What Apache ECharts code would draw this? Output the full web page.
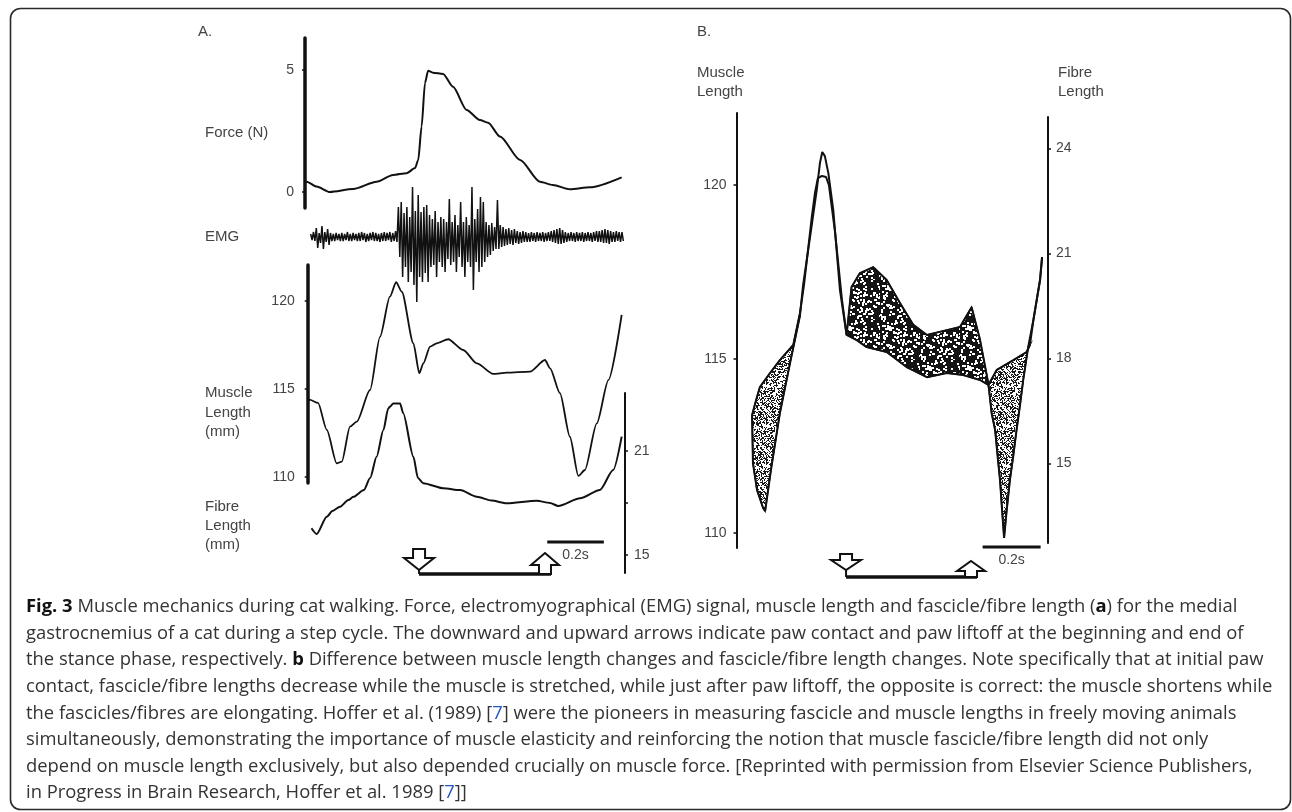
<!DOCTYPE html>
<html>
<head>
<meta charset="utf-8">
<title>Fig. 3 Muscle mechanics during cat walking</title>
<script src="https://cdn.jsdelivr.net/npm/echarts@6/dist/echarts.min.js"></script>
<style>
  html, body { margin: 0; padding: 0; background: #fff; }
  #chart { width: 1292px; height: 812px; }
</style>
</head>
<body>
<div id="chart"></div>
<script>
// time (s) is measured from the left axis of each panel

// panel A: force (N)
const forceA = [
  [0.000, 0.45], [0.006, 0.42], [0.041, 0.22], [0.088, 0.00], [0.170, 0.12], [0.253, 0.42],
  [0.311, 0.70], [0.359, 0.77], [0.389, 0.98], [0.400, 1.31], [0.412, 2.68], [0.424, 4.47],
  [0.435, 4.97], [0.452, 4.89], [0.488, 4.84], [0.523, 4.31], [0.571, 3.36], [0.618, 2.95],
  [0.647, 2.84], [0.689, 2.27], [0.760, 1.31], [0.830, 0.42], [0.876, 0.29], [0.936, 0.11],
  [1.007, 0.19], [1.119, 0.60]
];

// panel A: EMG envelope, one sample every 10 ms from 20 ms
const emgStart = 0.02;
const emgStep = 0.01;
const emgHigh = [
  3, 5, 9, 4, 11, 5, 8, 4, 3, 4, 3, 4, 3, 5, 3, 4, 3, 4, 5, 4, 3, 4, 5, 4, 3, 4, 5, 4, 5, 4, 6,
  30, 35, 24, 30, 20, 50, 26, 42, 25, 30, 32, 22, 18, 26, 15, 20, 18, 15, 38, 15, 22, 12, 35, 15,
  20, 12, 50, 18, 28, 40, 35, 15, 12, 14, 10, 37, 12, 10, 8, 9, 7, 8, 6,
  5, 6, 5, 4, 5, 4, 5, 4, 5, 4, 5, 6, 7, 8, 9, 7, 5, 4, 5, 4, 5, 4, 5, 4, 5, 4, 5, 6, 6, 7, 8,
  7, 6, 5, 6, 5, 5
];
const emgLow = [
  -3, -4, -11, -6, -12, -5, -8, -4, -4, -3, -4, -4, -3, -4, -4, -3, -4, -4, -3, -5, -4, -3, -4, -4,
  -5, -4, -4, -3, -5, -4, -5,
  -20, -40, -30, -45, -35, -48, -65, -40, -45, -36, -45, -30, -28, -40, -25, -30, -35, -22, -28,
  -25, -35, -20, -30, -40, -25, -30, -53, -25, -35, -30, -25, -20, -18, -14, -12, -12, -10, -9,
  -8, -7, -8, -6, -7,
  -6, -5, -5, -5, -4, -5, -4, -4, -5, -4, -4, -5, -6, -7, -7, -6, -5, -4, -4, -5, -4, -4, -5, -4,
  -4, -5, -4, -5, -5, -6, -6, -7, -5, -5, -4, -5, -4
];

// panel A: muscle length (mm)
const muscleA = [
  [0.010, 114.36], [0.018, 114.36], [0.046, 114.19], [0.077, 112.66], [0.112, 110.76],
  [0.130, 110.85], [0.159, 112.84], [0.183, 113.13], [0.230, 114.93], [0.265, 117.95],
  [0.300, 120.23], [0.322, 121.05], [0.342, 120.51], [0.383, 117.58], [0.404, 115.88],
  [0.418, 116.44], [0.442, 117.39], [0.465, 117.58], [0.506, 117.81], [0.559, 117.20],
  [0.607, 116.44], [0.665, 115.84], [0.713, 115.91], [0.795, 115.97], [0.848, 116.63],
  [0.866, 116.16], [0.901, 114.74], [0.936, 112.27], [0.966, 110.04], [0.989, 110.38],
  [1.031, 113.03], [1.072, 115.49], [1.119, 119.19]
];

// panel A: fibre length (mm)
const fibreA = [
  [0.023, 16.54], [0.041, 16.21], [0.077, 17.21], [0.097, 17.54], [0.124, 17.79], [0.153, 18.17],
  [0.171, 18.36], [0.208, 18.75], [0.230, 19.44], [0.253, 20.67], [0.277, 22.21], [0.294, 23.46],
  [0.300, 23.56], [0.312, 23.75], [0.336, 23.75], [0.347, 23.18], [0.383, 20.67], [0.399, 19.44],
  [0.418, 19.14], [0.489, 18.85], [0.548, 18.75], [0.607, 18.36], [0.659, 18.14], [0.713, 17.98],
  [0.819, 18.13], [0.866, 18.00], [0.895, 17.83], [0.972, 18.27], [1.042, 18.75], [1.089, 19.90],
  [1.119, 21.83]
];

// panel B: muscle length (mm)
const muscleB = [
  [0.052, 113.39], [0.055, 112.01], [0.069, 111.24], [0.090, 110.72], [0.097, 110.63],
  [0.117, 111.81], [0.148, 113.45], [0.183, 114.89], [0.217, 116.24], [0.228, 117.13],
  [0.252, 118.51], [0.275, 119.86], [0.286, 120.63], [0.294, 120.95], [0.303, 120.83],
  [0.315, 120.34], [0.332, 119.28], [0.355, 116.98], [0.378, 115.69], [0.395, 117.07],
  [0.424, 117.47], [0.470, 117.64], [0.516, 117.27], [0.562, 116.61], [0.608, 115.98],
  [0.655, 115.69], [0.723, 115.83], [0.769, 115.92], [0.809, 116.49], [0.838, 115.55],
  [0.867, 114.28], [0.878, 113.45], [0.890, 112.96], [0.900, 112.10], [0.907, 111.52],
  [0.914, 110.66], [0.921, 109.86], [0.929, 110.57], [0.941, 111.52], [0.953, 112.24],
  [0.964, 112.96], [0.976, 113.68], [0.987, 114.40], [1.004, 115.34], [1.022, 116.12],
  [1.045, 117.27], [1.052, 117.93]
];

// panel B: fibre length (mm)
const fibreB = [
  [0.052, 16.38], [0.066, 16.81], [0.079, 17.18], [0.114, 17.58], [0.148, 17.95], [0.194, 18.38],
  [0.217, 19.29], [0.231, 20.09], [0.258, 22.04], [0.269, 22.73], [0.279, 23.15], [0.293, 23.21],
  [0.307, 23.18], [0.317, 22.95], [0.338, 21.61], [0.362, 19.67], [0.378, 18.67], [0.413, 18.52],
  [0.447, 18.32], [0.516, 18.18], [0.585, 17.75], [0.655, 17.46], [0.723, 17.58], [0.780, 17.52],
  [0.838, 17.38], [0.867, 17.24], [0.896, 17.67], [0.953, 17.95], [0.999, 18.18], [1.010, 18.38],
  [1.022, 19.09], [1.045, 20.24], [1.052, 20.89]
];

// shaded spans in B: [from, to, 0 = fibre longer (light), 1 = muscle longer (dark)]
const spansB = [[0.052, 0.217, 0], [0.378, 0.867, 1], [0.867, 1.010, 0]];

// paw contact / liftoff times and the 0.2 s bar
const stanceA = [0.403, 0.848];
const scaleBarA = [0.856, 1.056];
const stanceB = [0.376, 0.807];
const scaleBarB = [0.847, 1.047];

const forceTicks = [0, 5];
const muscleTicks = [110, 115, 120];
const fibreTicksA = [15, 18, 21];
const fibreLabelsA = [15, 21];
const fibreTicksB = [15, 18, 21, 24];

// ---- layout ----
const FONT = 'Liberation Sans, Arial, sans-serif';
const INK = '#111';
const GREY = '#444';
const PA = { x0: 305, pps: 283, right: 625 };
const PB = { x0: 737, pps: 290, right: 1048 };
const FIBRE_B = { top: 117, height: 426, min: 12.723, max: 24.894 };

const grids = [
  { P: PA, left: 305, top: 38, height: 170 },    // 0 force
  { P: PA, left: 305, top: 180, height: 125 },   // 1 emg
  { P: PA, left: 307.7, top: 265, height: 218 }, // 2 muscle A
  { P: PA, left: 305, top: 393, height: 180 },   // 3 fibre A
  { P: PA, left: 305, top: 535, height: 39 },    // 4 arrows A
  { P: PB, left: 736.5, top: 113, height: 435 }, // 5 muscle B
  { P: PB, left: 736.5, top: FIBRE_B.top, height: FIBRE_B.height }, // 6 fibre B
  { P: PB, left: 736.5, top: 535, height: 42 }   // 7 arrows B
];

const gridOpts = grids.map(g => ({
  left: g.left, top: g.top, width: g.P.right - g.left, height: g.height,
  containLabel: false, outerBoundsMode: 'none'
}));
const xAxes = grids.map((g, i) => ({
  type: 'value', gridIndex: i, show: false,
  min: (g.left - g.P.x0) / g.P.pps, max: (g.P.right - g.P.x0) / g.P.pps
}));

function yAx(grid, min, max, o) {
  o = o || {};
  if (!o.ticks) return { type: 'value', gridIndex: grid, min, max, show: false };
  return {
    type: 'value', gridIndex: grid, min, max, position: o.pos || 'left',
    axisLine: { show: true, onZero: false, lineStyle: { color: INK, width: o.w || 2 } },
    axisTick: { show: true, length: 3, customValues: o.ticks, lineStyle: { color: INK, width: 1.5 } },
    axisLabel: {
      show: true, customValues: o.labels || o.ticks, margin: o.margin || 10,
      color: GREY, fontSize: 14, fontFamily: FONT
    },
    splitLine: { show: false }
  };
}

const yAxes = [
  yAx(0, -0.656, 6.311, { ticks: forceTicks, w: 3.5, margin: 11 }),
  yAx(1, -68, 57),
  yAx(2, 109.64, 122.03, { ticks: muscleTicks, w: 3.5, margin: 13 }),
  yAx(3, 13.96, 24.35, { ticks: fibreTicksA, labels: fibreLabelsA, pos: 'right', w: 2, margin: 9 }),
  yAx(4, 0, 1),
  yAx(5, 109.569, 122.069, { ticks: muscleTicks, w: 2, margin: 10 }),
  yAx(6, FIBRE_B.min, FIBRE_B.max, { ticks: fibreTicksB, pos: 'right', w: 2, margin: 8 }),
  yAx(7, 0, 1)
];

// ---- stipple textures ----
function stipple(bg, fg, n, size, seed) {
  const c = document.createElement('canvas');
  c.width = c.height = 40;
  const g = c.getContext('2d');
  g.fillStyle = bg; g.fillRect(0, 0, 40, 40);
  g.fillStyle = fg;
  let s = seed;
  for (let i = 0; i < n; i++) {
    s = (s * 16807) % 2147483647; const x = s % 40;
    s = (s * 16807) % 2147483647; const y = s % 40;
    g.fillRect(x, y, size, size);
  }
  return c;
}
const lightFill = { image: stipple('#ffffff', '#1a1a1a', 900, 1, 11), repeat: 'repeat' };
const darkFill = { image: stipple('#141414', '#ffffff', 150, 2, 29), repeat: 'repeat' };

function fibreBY(f) {
  return FIBRE_B.top + (FIBRE_B.max - f) / (FIBRE_B.max - FIBRE_B.min) * FIBRE_B.height;
}

function spanItem(params, api) {
  const t0 = api.value(0) - 1e-6, t1 = api.value(1) + 1e-6;
  const upper = muscleB.filter(p => p[0] >= t0 && p[0] <= t1).map(p => api.coord(p));
  const lower = fibreB.filter(p => p[0] >= t0 && p[0] <= t1)
    .map(p => [api.coord([p[0], 115])[0], fibreBY(p[1])]).reverse();
  return {
    type: 'polygon',
    shape: { points: upper.concat(lower) },
    style: { fill: api.value(2) ? darkFill : lightFill, stroke: INK, lineWidth: 1.5 }
  };
}

function annotItem(cfg) {
  return function (params, api) {
    const a = api.coord([api.value(0), 0]);
    const b = api.coord([api.value(1), 0]);
    const s0 = api.coord([api.value(2), 0]);
    const s1 = api.coord([api.value(3), 0]);
    const base = a[1], x0 = a[0], x1 = b[0];
    const tip = base - cfg.gap;
    const st = { fill: '#fff', stroke: INK, lineWidth: 2 };
    const barY = base - cfg.lift;
    return {
      type: 'group',
      children: [
        { type: 'line', shape: { x1: x0, y1: base, x2: x1 + 6, y2: base }, style: { stroke: INK, lineWidth: 3.5 } },
        { type: 'line', shape: { x1: x0, y1: tip, x2: x0, y2: base }, style: { stroke: INK, lineWidth: 2 } },
        {
          type: 'polygon', style: st,
          shape: { points: [[x0 - 6, tip - cfg.head - cfg.stem], [x0 + 6, tip - cfg.head - cfg.stem], [x0 + 6, tip - cfg.head],
            [x0 + 15, tip - cfg.head], [x0, tip], [x0 - 15, tip - cfg.head], [x0 - 6, tip - cfg.head]] }
        },
        {
          type: 'polygon', style: st,
          shape: { points: [[x1, base - cfg.head - cfg.stem], [x1 + 14, base - cfg.stem], [x1 + 6, base - cfg.stem],
            [x1 + 6, base], [x1 - 6, base], [x1 - 6, base - cfg.stem], [x1 - 14, base - cfg.stem]] }
        },
        { type: 'line', shape: { x1: s0[0], y1: barY, x2: s1[0], y2: barY }, style: { stroke: INK, lineWidth: 3 } },
        {
          type: 'text',
          style: { text: '0.2s', x: (s0[0] + s1[0]) / 2, y: barY + 13, align: 'center', verticalAlign: 'middle',
            fontSize: 14, fontFamily: FONT, fill: GREY }
        }
      ]
    };
  };
}

function trace(name, grid, data, width) {
  return {
    name, type: 'line', xAxisIndex: grid, yAxisIndex: grid, data,
    showSymbol: false, symbol: 'none', smooth: 0.25, smoothMonotone: 'x',
    lineStyle: { color: INK, width: width || 1.8 }, z: 5, silent: true
  };
}

const emgData = [];
emgHigh.forEach((h, i) => {
  const t = emgStart + i * emgStep;
  emgData.push([t, h], [t + emgStep / 2, emgLow[i]]);
});

// ---- text ----
function label(lines, x, y, lh, extra) {
  return lines.map((s, i) => Object.assign({
    type: 'text', x, y: y + i * lh,
    style: { text: s, fontSize: 15, fontFamily: FONT, fill: GREY, verticalAlign: 'middle', align: 'left' }
  }, extra || {}));
}

const captionLines = [
  '{b|Fig. 3} Muscle mechanics during cat walking. Force, electromyographical (EMG) signal, muscle length and fascicle/fibre length ({b|a}) for the medial',
  'gastrocnemius of a cat during a step cycle. The downward and upward arrows indicate paw contact and paw liftoff at the beginning and end of',
  'the stance phase, respectively. {b|b} Difference between muscle length changes and fascicle/fibre length changes. Note specifically that at initial paw',
  'contact, fascicle/fibre lengths decrease while the muscle is stretched, while just after paw liftoff, the opposite is correct: the muscle shortens while',
  'the fascicles/fibres are elongating. Hoffer et al. (1989) [{l|7}] were the pioneers in measuring fascicle and muscle lengths in freely moving animals',
  'simultaneously, demonstrating the importance of muscle elasticity and reinforcing the notion that muscle fascicle/fibre length did not only',
  'depend on muscle length exclusively, but also depended crucially on muscle force. [Reprinted with permission from Elsevier Science Publishers,',
  'in Progress in Brain Research, Hoffer et al. 1989 [{l|7}]]'
];
const CAP_FONT = 'Open Sans, Noto Sans, sans-serif';
const CAP_SIZE = 18.4;
const captionEls = captionLines.map((s, i) => ({
  type: 'text', x: 26, y: 607 + i * 26.6,
  style: {
    text: s, fontSize: CAP_SIZE, fontFamily: CAP_FONT, fill: '#333', verticalAlign: 'middle', align: 'left',
    rich: {
      b: { fontSize: CAP_SIZE, fontFamily: CAP_FONT, fontWeight: 'bold', fill: '#111' },
      l: { fontSize: CAP_SIZE, fontFamily: CAP_FONT, fill: '#2457c5' }
    }
  }
}));

const graphics = [
  { type: 'rect', shape: { x: 10.5, y: 8.5, width: 1280, height: 801, r: 10 }, style: { fill: 'none', stroke: '#2a2a2a', lineWidth: 1.6 }, z: -10 },
  ...label(['A.'], 198, 32, 0, {}),
  ...label(['B.'], 697, 32, 0, {}),
  ...label(['Force (N)'], 205, 133, 0),
  ...label(['EMG'], 205, 237, 0),
  ...label(['Muscle', 'Length', '(mm)'], 205, 393, 19.5),
  ...label(['Fibre', 'Length', '(mm)'], 205, 507, 19),
  ...label(['Muscle', 'Length'], 697, 73, 19),
  ...label(['Fibre', 'Length'], 1058, 73, 19),
  ...captionEls
];

const chart = echarts.init(document.getElementById('chart'), null, { renderer: 'canvas' });
chart.setOption({
  animation: false,
  backgroundColor: '#fff',
  grid: gridOpts,
  xAxis: xAxes,
  yAxis: yAxes,
  graphic: { elements: graphics },
  series: [
    trace('Force', 0, forceA, 2),
    {
      name: 'EMG', type: 'line', xAxisIndex: 1, yAxisIndex: 1, data: emgData,
      showSymbol: false, symbol: 'none', lineStyle: { color: INK, width: 1.5 }, z: 5, silent: true
    },
    trace('Muscle length A', 2, muscleA, 1.8),
    trace('Fibre length A', 3, fibreA, 2),
    {
      name: 'Stance A', type: 'custom', xAxisIndex: 4, yAxisIndex: 4, silent: true,
      renderItem: annotItem({ gap: 4, head: 12, stem: 9, lift: 32 }),
      data: [[stanceA[0], stanceA[1], scaleBarA[0], scaleBarA[1]]]
    },
    {
      name: 'Difference B', type: 'custom', xAxisIndex: 5, yAxisIndex: 5, silent: true, z: 2,
      renderItem: spanItem, data: spansB
    },
    Object.assign(trace('Muscle length B', 5, muscleB, 2), { smooth: false }),
    Object.assign(trace('Fibre length B', 6, fibreB, 2), { smooth: false }),
    {
      name: 'Stance B', type: 'custom', xAxisIndex: 7, yAxisIndex: 7, silent: true,
      renderItem: annotItem({ gap: 7, head: 10, stem: 6, lift: 30 }),
      data: [[stanceB[0], stanceB[1], scaleBarB[0], scaleBarB[1]]]
    }
  ]
});
window.addEventListener('resize', () => chart.resize());
</script>
</body>
</html>
